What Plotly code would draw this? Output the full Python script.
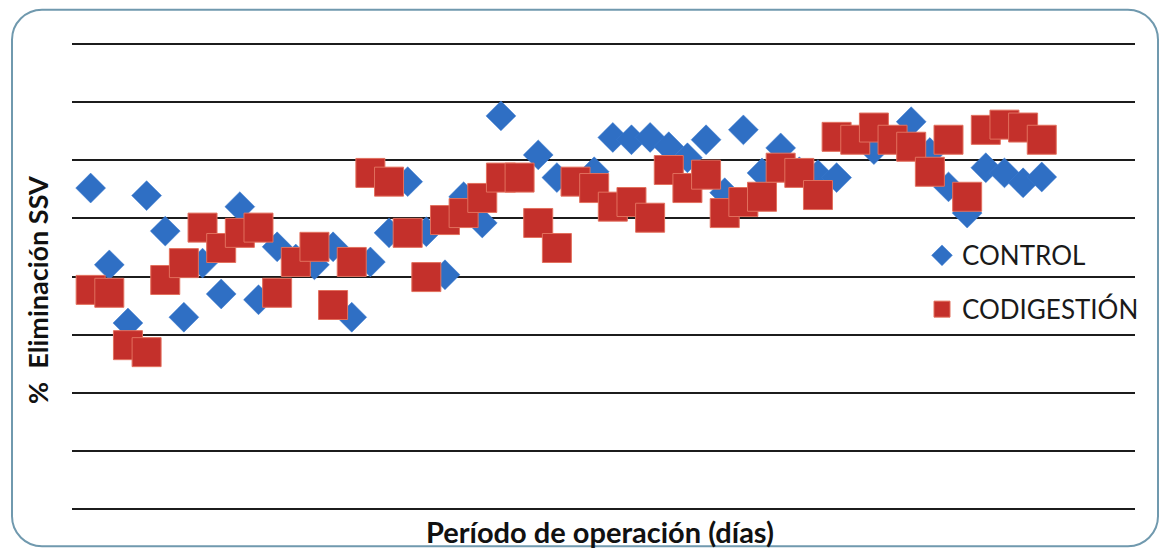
import plotly.graph_objects as go

# Operating period (days) and % VSS removal for each reactor
control_days = [1, 2, 3, 4, 5, 6, 7, 8, 9, 10, 11, 12, 13, 14, 15, 16, 17, 18, 19, 20,
                21, 22, 23, 25, 26, 28, 29, 30, 31, 32, 33, 34, 35, 36, 37, 38, 39, 40,
                41, 43, 45, 46, 47, 48, 49, 50, 51, 52]
control_vals = [55.2, 42.0, 32.0, 53.9, 47.8, 33.0, 42.3, 37.0, 52.0, 36.0, 45.1, 43.0,
                42.0, 45.1, 33.0, 42.5, 47.5, 56.3, 47.7, 40.3, 53.7, 49.2, 67.6, 60.9,
                57.0, 58.0, 63.9, 63.5, 63.9, 62.3, 60.4, 63.5, 54.4, 65.2, 57.8, 62.1,
                58.0, 57.5, 57.0, 61.8, 66.6, 61.3, 55.4, 50.9, 58.7, 57.8, 56.1, 57.1]

codig_days = [1, 2, 3, 4, 5, 6, 7, 8, 9, 10, 11, 12, 13, 14, 15, 16, 17, 18, 19, 20,
              21, 22, 23, 24, 25, 26, 27, 28, 29, 30, 31, 32, 33, 34, 35, 36, 37, 38,
              39, 40, 41, 42, 43, 44, 45, 46, 47, 48, 49, 50, 51, 52]
codig_vals = [37.7, 37.2, 28.2, 27.0, 39.4, 42.3, 48.4, 44.9, 47.5, 48.4, 37.2, 42.5,
              45.1, 35.1, 42.5, 57.8, 56.3, 47.5, 39.9, 49.7, 50.9, 53.5, 57.0, 57.0,
              49.2, 44.9, 56.3, 55.2, 52.0, 52.8, 50.1, 58.3, 55.2, 57.5, 50.9, 52.8,
              53.7, 58.7, 57.8, 54.0, 64.0, 63.5, 65.6, 63.5, 62.3, 58.0, 63.5, 53.7,
              65.2, 66.1, 65.6, 63.5]

W, H = 1161, 550
# y = 0 sits at 509 px, y = 80 at 44 px; a small pad keeps both edge gridlines visible
Y0_PX, Y80_PX = 509, 44
PAD = 0.3
UNIT = (Y0_PX - Y80_PX) / 80.0
ML, MR = 72, 26
MT = Y80_PX - PAD * UNIT
MB = H - (Y0_PX + PAD * UNIT)
PW = W - ML - MR
PH = H - MT - MB

fig = go.Figure()
fig.add_trace(go.Scatter(
    x=control_days, y=control_vals, mode="markers", name="CONTROL",
    legendgroup="a",
    marker=dict(symbol="diamond", size=23, color="#2F6FC4",
                line=dict(color="#3A7BD0", width=0.5)),
))
fig.add_trace(go.Scatter(
    x=codig_days, y=codig_vals, mode="markers", name="CODIGESTIÓN",
    legendgroup="b",
    marker=dict(symbol="square", size=29, color="#C4302B",
                line=dict(color="#E2705E", width=1)),
))


def px(x, y):
    """Convert a page pixel position to paper coordinates."""
    return (x - ML) / PW, (H - MB - y) / PH


def P(x, y):
    a, b = px(x, y)
    return f"{a:.5f},{b:.5f}"


# rounded frame around the whole chart
L, T, R, B, r = 12, 10, 1158, 546, 30
k = 0.5523 * r
path = (
    f"M{P(L + r, T)} L{P(R - r, T)} "
    f"C{P(R - r + k, T)} {P(R, T + r - k)} {P(R, T + r)} "
    f"L{P(R, B - r)} "
    f"C{P(R, B - r + k)} {P(R - r + k, B)} {P(R - r, B)} "
    f"L{P(L + r, B)} "
    f"C{P(L + r - k, B)} {P(L, B - r + k)} {P(L, B - r)} "
    f"L{P(L, T + r)} "
    f"C{P(L, T + r - k)} {P(L + r - k, T)} {P(L + r, T)} Z"
)
fig.add_shape(type="path", path=path, xref="paper", yref="paper",
              line=dict(color="#7099AE", width=2), layer="below")

ax, ay = px(37, 290)
fig.add_annotation(text="<b>%  Eliminación SSV</b>", xref="paper", yref="paper",
                   x=ax, y=ay, textangle=-90, showarrow=False,
                   xanchor="center", yanchor="middle",
                   font=dict(family="Lato", size=27, color="#111111"))

bx, by = px(600, 531)
fig.add_annotation(text="<b>Período de operación (días)</b>", xref="paper", yref="paper",
                   x=bx, y=by, showarrow=False, xanchor="center", yanchor="middle",
                   font=dict(family="Lato", size=29, color="#111111"))

lx, ly = px(922, 232)
fig.update_layout(
    width=W, height=H,
    margin=dict(l=ML, r=MR, t=MT, b=MB),
    paper_bgcolor="white", plot_bgcolor="white",
    showlegend=True,
    legend=dict(x=lx, y=ly, xanchor="left", yanchor="top",
                bgcolor="rgba(0,0,0,0)", font=dict(family="Lato", size=26, color="#1a1a1a"),
                tracegroupgap=17, itemsizing="trace"),
    xaxis=dict(range=[0, 57], showgrid=False, zeroline=False, showticklabels=False,
               ticks="", showline=False),
    yaxis=dict(range=[-PAD, 80 + PAD], tick0=0, dtick=10, showgrid=True,
               gridcolor="#1c1c1c", gridwidth=1.6,
               zeroline=False, showticklabels=False, ticks="", showline=False),
)

fig.write_html("out.html")
